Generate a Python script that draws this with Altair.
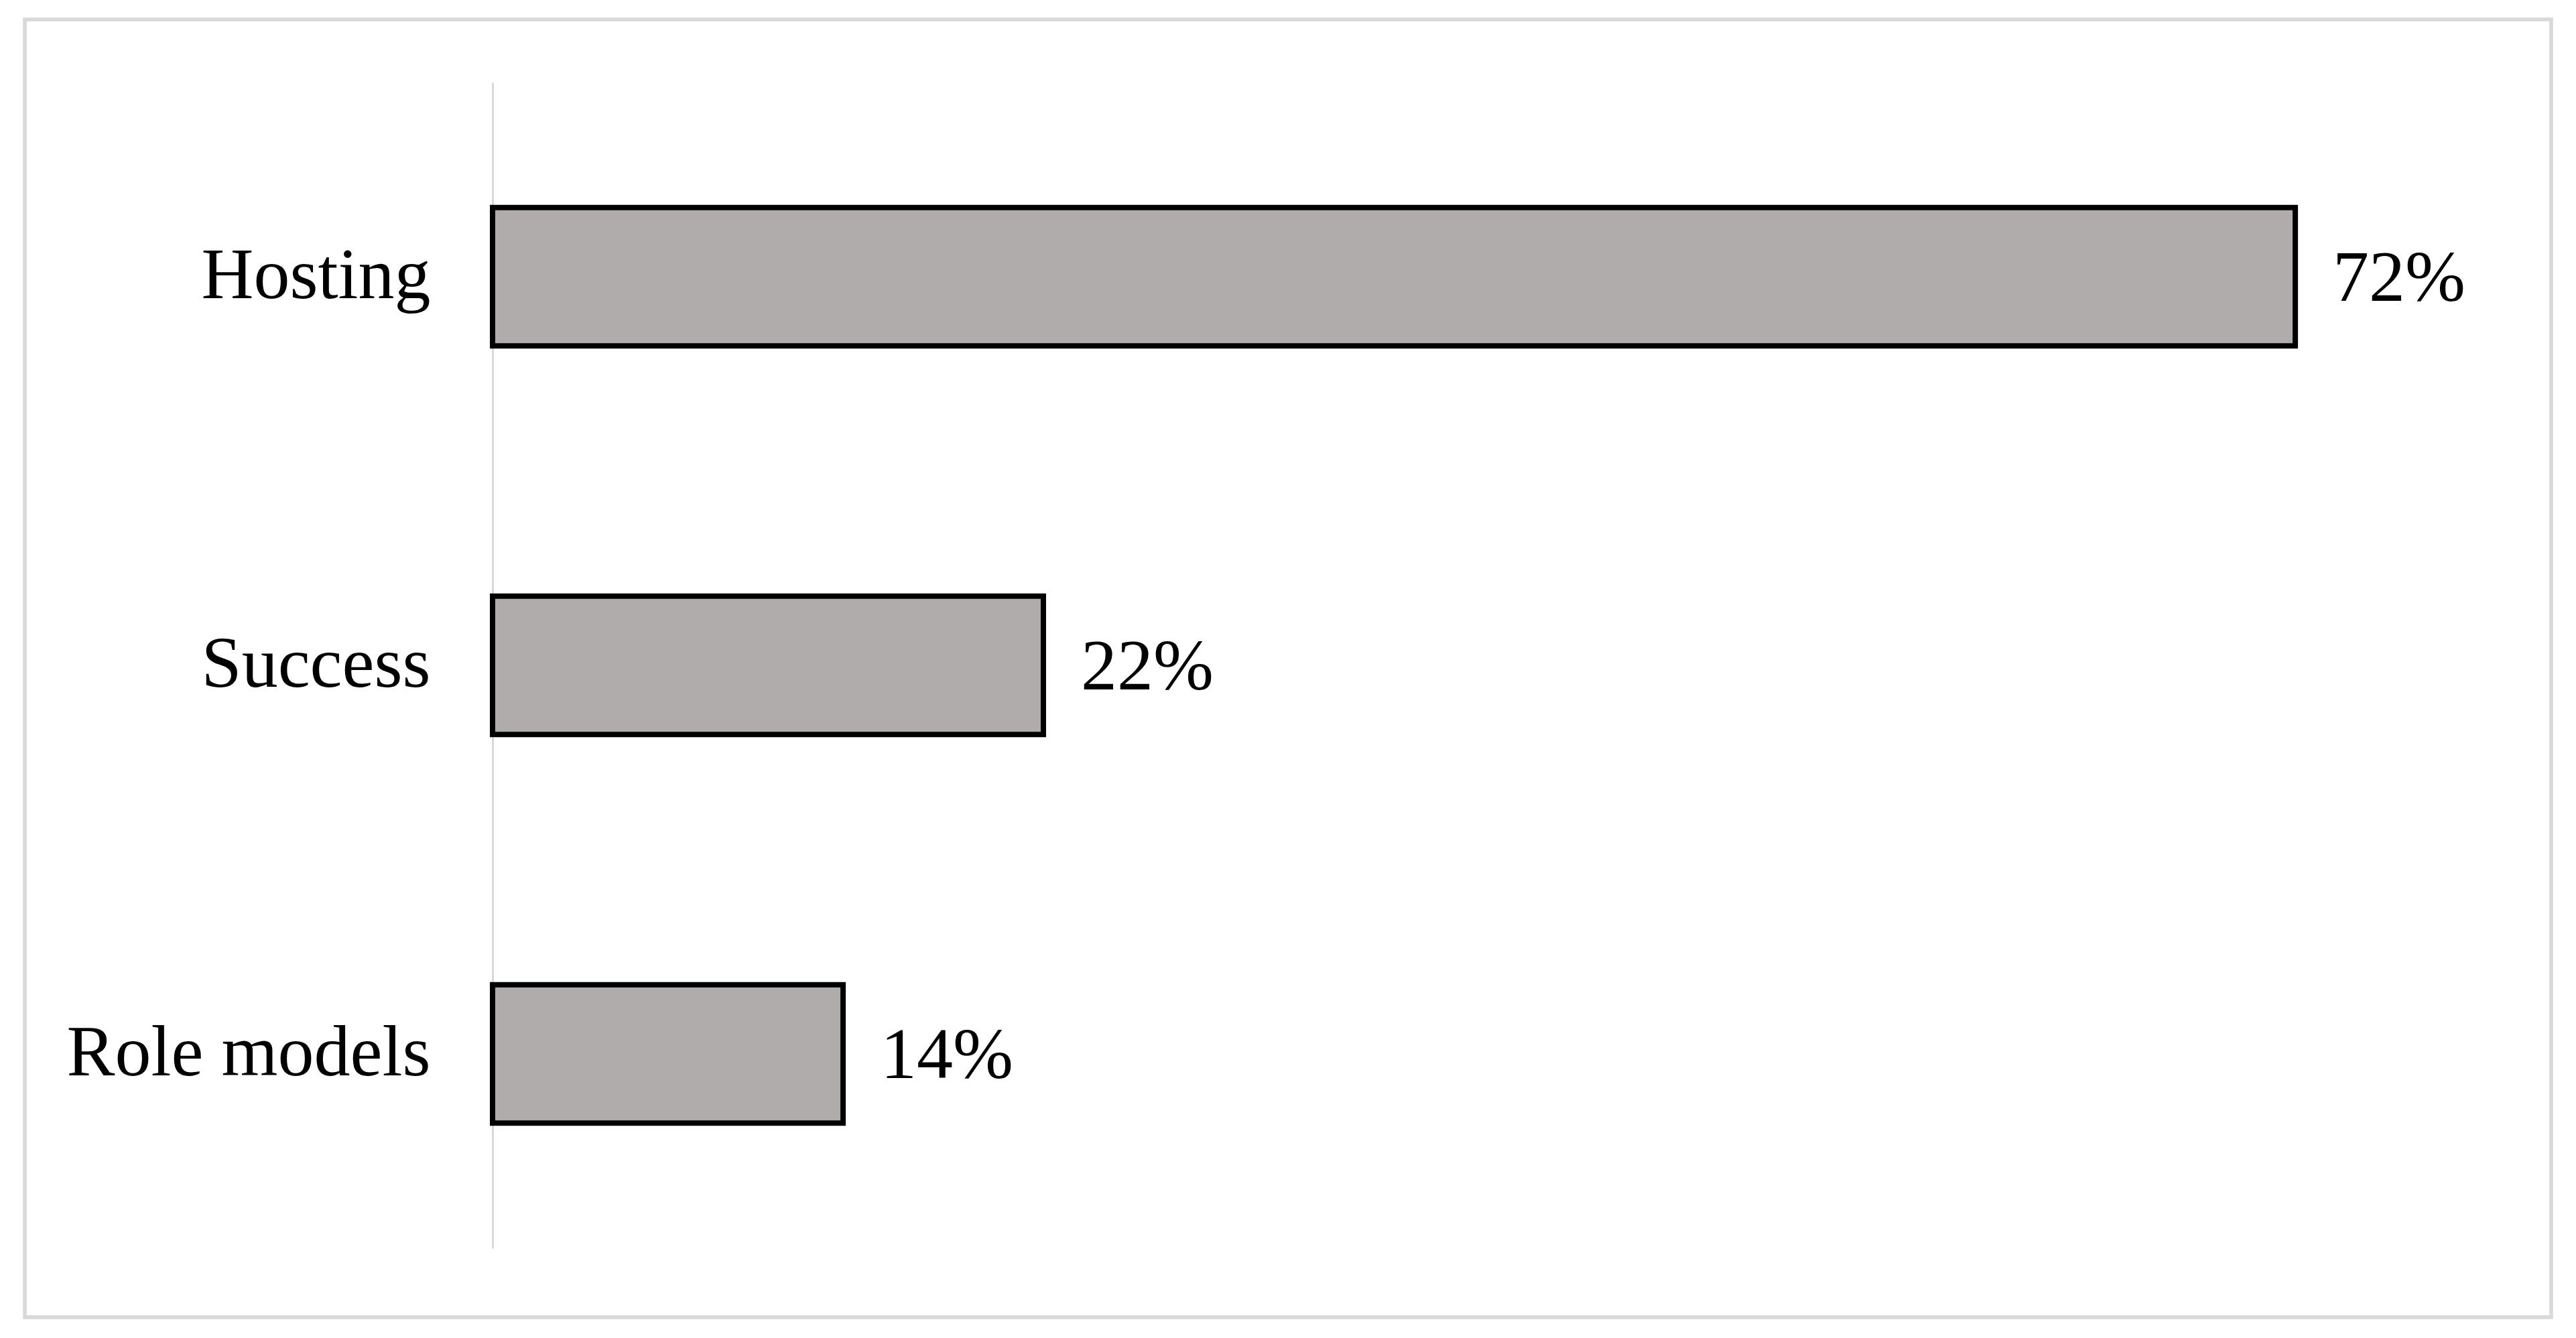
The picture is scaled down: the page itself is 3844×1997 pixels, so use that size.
import altair as alt
import pandas as pd

categories = ["Hosting", "Success", "Role models"]
values = [72, 22, 14]
labels = ["72%", "22%", "14%"]

df = pd.DataFrame({"category": categories, "value": values, "label": labels})

FONT = "Liberation Serif"
W, H = 2989, 1740

y_enc = alt.Y(
    "category:N",
    sort=categories,
    scale=alt.Scale(paddingInner=0.644, paddingOuter=0.322),
    axis=alt.Axis(
        title=None,
        ticks=False,
        grid=False,
        domain=True,
        domainColor="#d9d9d9",
        domainWidth=3,
        labelFont=FONT,
        labelFontSize=108,
        labelColor="#000000",
        labelPadding=93,
        labelLimit=2000,
    ),
)
x_enc = alt.X("value:Q", scale=alt.Scale(domain=[0, 80]), axis=None)

bars = alt.Chart(df).mark_bar(
    color="#afacab", stroke="#000000", strokeWidth=8
).encode(x=x_enc, y=y_enc)

text = alt.Chart(df).mark_text(
    align="left", baseline="middle", dx=56, dy=4, font=FONT, fontSize=108, color="#000000"
).encode(x=x_enc, y=y_enc, text="label:N")

frame = alt.Chart(df).mark_rect(
    filled=False, stroke="#d9d9d9", strokeWidth=5
).encode(
    x=alt.value(-698), x2=alt.value(3072), y=alt.value(-94), y2=alt.value(1843)
)

chart = alt.layer(frame, bars, text).properties(
    width=W,
    height=H,
    autosize=alt.AutoSizeParams(type="none"),
    padding={"left": 727, "top": 115, "right": 100, "bottom": 110},
    view=alt.ViewBackground(stroke="transparent", strokeWidth=0),
).configure_view(stroke="transparent", strokeWidth=0).configure(background="#ffffff")

chart.save("out.html", embed_options={"renderer": "svg", "actions": False})
